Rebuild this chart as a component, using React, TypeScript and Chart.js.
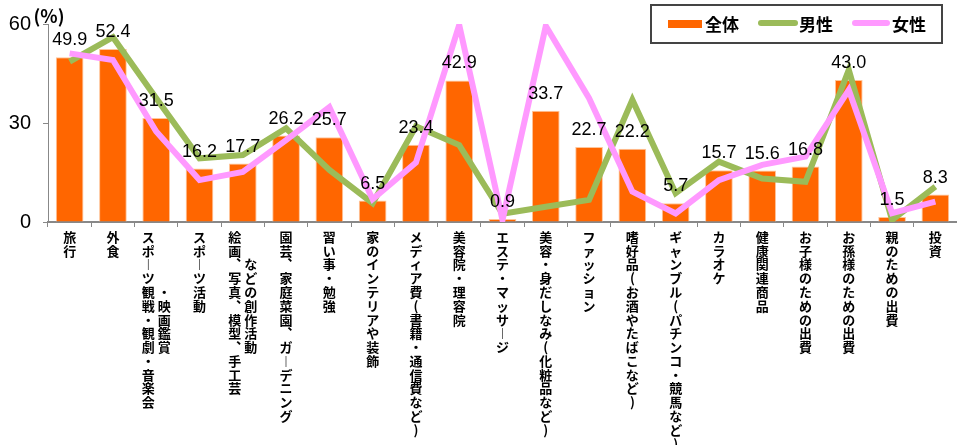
import React, { useEffect, useRef } from "react";
import { Chart, registerables } from "chart.js";

Chart.register(...registerables);

// ---- data ----
const categories: string[] = [
  "旅行",
  "外食",
  "スポーツ観戦・観劇・音楽会・映画鑑賞",
  "スポーツ活動",
  "絵画、写真、模型、手工芸などの創作活動",
  "園芸、家庭菜園、ガーデニング",
  "習い事・勉強",
  "家のインテリアや装飾",
  "メディア費(書籍・通信費など)",
  "美容院・理容院",
  "エステ・マッサージ",
  "美容・身だしなみ(化粧品など)",
  "ファッション",
  "嗜好品(お酒やたばこなど)",
  "ギャンブル(パチンコ・競馬など)",
  "カラオケ",
  "健康関連商品",
  "お子様のための出費",
  "お孫様のための出費",
  "親のための出費",
  "投資",
];

// how each category label is split into vertical columns (second column offset by leading spaces)
const labelColumns: string[][] = [
  ["旅行"],
  ["外食"],
  ["スポーツ観戦・観劇・音楽会", "　　　　・映画鑑賞"],
  ["スポーツ活動"],
  ["絵画、写真、模型、手工芸", "　　などの創作活動"],
  ["園芸、家庭菜園、ガーデニング"],
  ["習い事・勉強"],
  ["家のインテリアや装飾"],
  ["メディア費(書籍・通信費など)"],
  ["美容院・理容院"],
  ["エステ・マッサージ"],
  ["美容・身だしなみ(化粧品など)"],
  ["ファッション"],
  ["嗜好品(お酒やたばこなど)"],
  ["ギャンブル(パチンコ・競馬など)"],
  ["カラオケ"],
  ["健康関連商品"],
  ["お子様のための出費"],
  ["お孫様のための出費"],
  ["親のための出費"],
  ["投資"],
];

const seriesNames = ["全体", "男性", "女性"];
const totalValues = [49.9, 52.4, 31.5, 16.2, 17.7, 26.2, 25.7, 6.5, 23.4, 42.9, 0.9, 33.7, 22.7, 22.2, 5.7, 15.7, 15.6, 16.8, 43.0, 1.5, 8.3];
const maleValues = [48.6, 56.0, 37.5, 19.3, 20.3, 28.4, 15.8, 5.7, 29.0, 23.3, 2.5, 4.6, 6.7, 37.0, 8.7, 18.3, 13.2, 12.2, 46.1, 0.6, 10.7];
const femaleValues = [51.1, 49.1, 27.4, 12.7, 15.2, 24.8, 34.8, 6.9, 18.0, 59.7, 0.6, 59.4, 37.5, 9.2, 2.6, 12.7, 17.3, 19.8, 40.0, 2.7, 6.2];
const yTicks = [0, 30, 60];
const unitLabel = "(%)";

// ---- helpers ----
const verticalForm = (c: string) => (c === "ー" ? "︱" : c === "、" ? "︑" : c);

function toRows(cols: string[]): string[] {
  const chars = cols.map((c) => Array.from(c).map(verticalForm));
  if (chars.length === 1) return chars[0];
  const n = Math.max(...chars.map((c) => c.length));
  const rows: string[] = [];
  for (let i = 0; i < n; i++) {
    const l = chars[0][i] ?? "　";
    const r = chars[1][i] ?? "　";
    rows.push(l + " " + r);
  }
  return rows;
}

const axisLabels = labelColumns.map(toRows);

const valueLabelPlugin = {
  id: "valueLabels",
  afterDatasetsDraw(chart: any) {
    const ctx = chart.ctx;
    const meta = chart.getDatasetMeta(0);
    ctx.save();
    ctx.font = '18px "Liberation Sans", Arial, sans-serif';
    ctx.fillStyle = "#000";
    ctx.textAlign = "center";
    ctx.textBaseline = "alphabetic";
    meta.data.forEach((el: any, i: number) => {
      ctx.fillText(totalValues[i].toFixed(1), el.x, el.y - 12);
    });
    ctx.restore();
  },
};

const legendBoxPlugin = {
  id: "legendBox",
  afterDraw(chart: any) {
    const ctx = chart.ctx;
    const ds = chart.data.datasets;
    ctx.save();
    // unit label near the top of the y axis
    ctx.font = 'bold 18px "Noto Sans CJK JP", sans-serif';
    ctx.fillStyle = "#000";
    ctx.textAlign = "center";
    ctx.textBaseline = "middle";
    ctx.fillText(unitLabel, 49, 16);

    // legend frame
    ctx.strokeStyle = "#444";
    ctx.lineWidth = 2;
    ctx.strokeRect(651, 5, 291, 38);

    ctx.font = 'bold 17px "Noto Sans CJK JP", sans-serif';
    ctx.textAlign = "left";
    // bar item
    ctx.fillStyle = ds[0].backgroundColor;
    ctx.fillRect(668, 20, 34, 8);
    ctx.fillStyle = "#000";
    ctx.fillText(ds[0].label, 705, 25);
    // line items
    const items = [
      { d: ds[1], x0: 761, x1: 795, tx: 799 },
      { d: ds[2], x0: 855, x1: 887, tx: 892 },
    ];
    items.forEach((it) => {
      ctx.strokeStyle = it.d.borderColor;
      ctx.lineWidth = 6;
      ctx.lineCap = "round";
      ctx.beginPath();
      ctx.moveTo(it.x0, 23);
      ctx.lineTo(it.x1, 23);
      ctx.stroke();
      ctx.fillStyle = "#000";
      ctx.fillText(it.d.label, it.tx, 25);
    });
    ctx.restore();
  },
};

export default function App() {
  const ref = useRef<HTMLCanvasElement>(null);
  useEffect(() => {
    document.body.style.margin = "0";
    const chart = new Chart(ref.current!, {
      type: "bar",
      data: {
        labels: axisLabels,
        datasets: [
          {
            type: "bar",
            label: seriesNames[0],
            data: totalValues,
            backgroundColor: "#FF6600",
            borderColor: "#FFC59A",
            borderWidth: 1,
            barPercentage: 0.64,
            categoryPercentage: 1,
            order: 2,
          },
          {
            type: "line",
            label: seriesNames[1],
            data: maleValues,
            borderColor: "#9BBB59",
            backgroundColor: "#9BBB59",
            borderWidth: 6,
            pointRadius: 0,
            tension: 0,
            order: 1,
          },
          {
            type: "line",
            label: seriesNames[2],
            data: femaleValues,
            borderColor: "#FF99FF",
            backgroundColor: "#FF99FF",
            borderWidth: 6,
            pointRadius: 0,
            tension: 0,
            order: 0,
          },
        ] as any,
      },
      options: {
        responsive: false,
        animation: false,
        layout: { padding: { top: 24, left: 0, right: 0, bottom: 0 } },
        plugins: { legend: { display: false }, tooltip: { enabled: false } },
        scales: {
          x: {
            grid: { display: true, drawOnChartArea: false, drawTicks: true, tickLength: 5, color: "#888", offset: true },
            border: { color: "#888", width: 2 },
            ticks: {
              autoSkip: false,
              maxRotation: 0,
              minRotation: 0,
              padding: 3,
              color: "#000",
              font: { family: '"Noto Sans CJK JP", sans-serif', size: 13, weight: "bold", lineHeight: 1.06 },
            },
            afterFit: (s: any) => {
              s.height = 223;
            },
          },
          y: {
            min: 0,
            max: 60,
            afterBuildTicks: (s: any) => {
              s.ticks = yTicks.map((v) => ({ value: v }));
            },
            ticks: {
              padding: 12,
              color: "#000",
              font: { family: '"Liberation Sans", Arial, sans-serif', size: 20 },
            },
            grid: { drawOnChartArea: false, tickLength: 5, color: "#888" },
            border: { color: "#888", width: 1 },
            afterFit: (s: any) => {
              s.width = 48;
            },
          },
        },
      } as any,
      plugins: [valueLabelPlugin, legendBoxPlugin],
    });
    return () => chart.destroy();
  }, []);
  return <canvas ref={ref} width={957} height={445} style={{ display: "block" }} />;
}
